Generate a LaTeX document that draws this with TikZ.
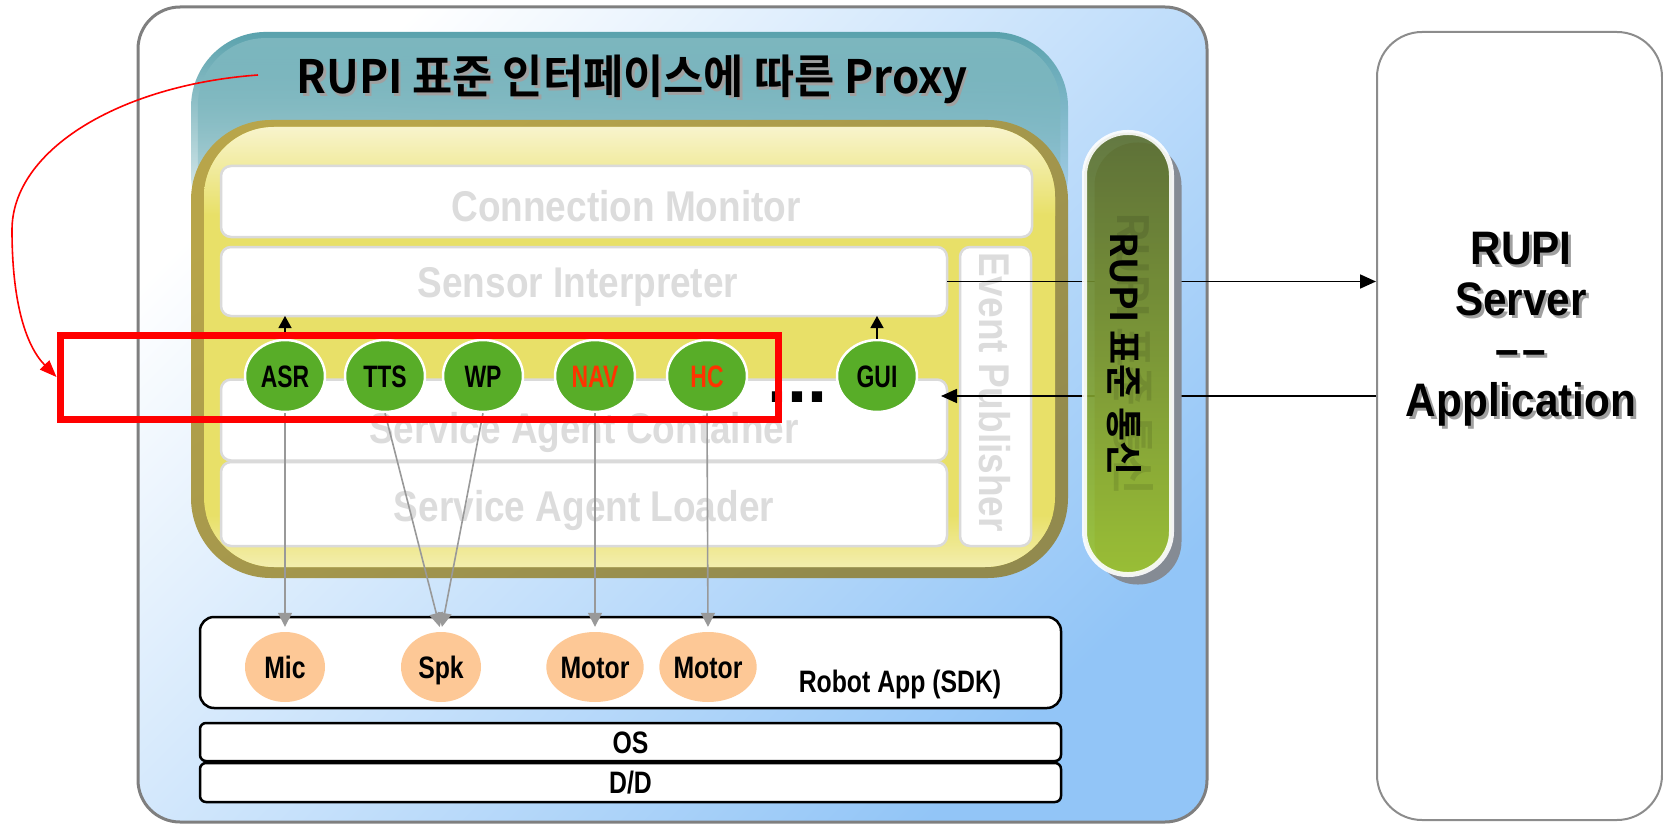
\documentclass[tikz,border=0pt]{standalone}
\usepackage{fontspec}
\usetikzlibrary{arrows.meta,shapes.geometric,fadings}

\newfontfamily\agentfont{Liberation Sans Bold}[FakeStretch=0.74]
\newfontfamily\devfont{Liberation Sans Bold}[FakeStretch=0.8]
\newfontfamily\layerfont{Liberation Sans Bold}[FakeStretch=0.86]
\newfontfamily\serverfont{Liberation Sans Bold}[FakeStretch=0.9]
\newfontfamily\plainbold{Liberation Sans Bold}
\newfontfamily\krtitle{Noto Sans CJK KR Bold}[FakeStretch=0.95]
\newfontfamily\krbar{Noto Sans CJK KR Bold}

\definecolor{bgblue}{HTML}{92C5F7}
\definecolor{frame}{HTML}{7F7F7F}
\definecolor{tealtop}{HTML}{5AA2AD}
\definecolor{tealin}{HTML}{7DB7BF}
\definecolor{olivelt}{HTML}{B8A54A}
\definecolor{olivedk}{HTML}{928A4E}
\definecolor{ymain}{HTML}{E8E068}
\definecolor{ylight}{HTML}{F8F4CC}
\definecolor{boxline}{HTML}{DADADA}
\definecolor{boxtext}{HTML}{DCDCDC}
\definecolor{agentgreen}{HTML}{58AD28}
\definecolor{navred}{HTML}{FF3300}
\definecolor{peach}{HTML}{FDC896}
\definecolor{pilltop}{HTML}{5A6E2E}
\definecolor{pillbot}{HTML}{9CC42C}
\definecolor{pillshadow}{HTML}{858B94}
\definecolor{wire}{HTML}{999999}
\definecolor{srvline}{HTML}{8C8C8C}
\definecolor{txtshadow}{HTML}{A0A0A0}

\begin{document}
\begin{tikzpicture}[x=1pt,y=-1pt,
  layer/.style={draw=boxline, line width=2.5pt, fill=white, rounded corners=10pt,
    inner sep=0pt, outer sep=0pt},
  layerlbl/.style={font=\layerfont\fontsize{43pt}{43pt}\selectfont, text=boxtext,
    inner sep=0pt, text height=31pt, text depth=0pt},
  agent/.style={ellipse, fill=agentgreen, draw=white, line width=2.5pt,
    minimum width=80pt, minimum height=72pt, inner sep=0pt,
    font=\agentfont\fontsize{31pt}{31pt}\selectfont, text height=22pt, text depth=0pt},
  device/.style={ellipse, fill=peach, minimum width=80pt, minimum height=70pt,
    inner sep=0pt, font=\devfont\fontsize{31pt}{31pt}\selectfont,
    text height=22pt, text depth=0pt},
  sdk/.style={draw=black, line width=2.5pt, fill=white, inner sep=0pt,
    font=\devfont\fontsize{31pt}{31pt}\selectfont, text height=22pt, text depth=0pt},
  uparrow/.style={line width=1.3pt, -{Triangle[length=12pt,width=13pt]}},
  wiredown/.style={draw=wire, line width=1.6pt, -{Triangle[length=14pt,width=14pt]},
    shorten >=5pt},
  link/.style={line width=1.8pt, -{Triangle[length=16pt,width=14pt]}},
  redlink/.style={draw=red, line width=1.6pt, -{Triangle[length=17pt,width=13pt]}},
]
\useasboundingbox (0,0) rectangle (1663,824);

% host frame of the robot side
\node[draw=frame, line width=3pt, rounded corners=42pt, top color=white,
  bottom color=bgblue, shading angle=45, minimum width=1069pt,
  minimum height=815pt, inner sep=0pt] (host) at (672.5,414.5) {};

% RUPI server / application
\node[draw=srvline, line width=2pt, fill=white, rounded corners=45pt,
  minimum width=285pt, minimum height=788pt, inner sep=0pt] (srv) at (1519.5,426) {};
\node[text=txtshadow, align=center, inner sep=0pt,
  font=\serverfont\fontsize{47pt}{50.5pt}\selectfont] at (1524,332)
  {RUPI\\Server\\\textendash\hspace{4pt}\textendash\\Application};
\node[align=center, inner sep=0pt,
  font=\serverfont\fontsize{47pt}{50.5pt}\selectfont] (srvtxt) at (1521,329)
  {RUPI\\Server\\\textendash\hspace{4pt}\textendash\\Application};

% proxy band
\fill[tealtop, path fading=south, rounded corners=75pt] (191,32) rectangle (1068,250);
\fill[tealin, path fading=south, rounded corners=68pt] (198,38) rectangle (1061,250);
\node[anchor=base, inner sep=0pt, text=txtshadow,
  font=\krtitle\fontsize{46pt}{46pt}\selectfont] at (634.5,96.5)
  {RUPI 표준 인터페이스에 따른 Proxy};
\node[anchor=base, inner sep=0pt,
  font=\krtitle\fontsize{46pt}{46pt}\selectfont] (title) at (632,94)
  {RUPI 표준 인터페이스에 따른 Proxy};
\coordinate (cstart) at (258,75);

% proxy body
\node[rounded corners=80pt, top color=olivelt, bottom color=olivedk,
  shading angle=30, minimum width=877pt, minimum height=458pt,
  inner sep=0pt] (body) at (629.5,349) {};
\fill[ymain, rounded corners=70pt] (204,127) rectangle (1055,567);
\begin{scope}
  \clip[rounded corners=70pt] (204,127) rectangle (1055,567);
  \shade[top color=ylight, bottom color=ymain] (204,127) rectangle (1055,215);
  \shade[top color=ymain, bottom color=ylight!70!ymain] (204,515) rectangle (1055,567);
\end{scope}

% internal layers
\node[layer, minimum width=811pt, minimum height=71pt] (cm) at (626.5,201.5) {};
\node[layer, minimum width=726pt, minimum height=69pt] (si) at (584,281.5) {};
\node[layer, minimum width=71pt, minimum height=299pt] (ep) at (995.5,396.5) {};
\node[layer, minimum width=726pt, minimum height=81pt] (sac) at (584,420) {};
\node[layer, minimum width=726pt, minimum height=84pt] (sal) at (584,504) {};
\node[layerlbl] at (626,205.5) {Connection Monitor};
\node[layerlbl] at (578,282) {Sensor Interpreter};
\node[layerlbl] at (584,428) {Service Agent Container};
\node[layerlbl] at (584,506) {Service Agent Loader};
\node[layerlbl, rotate=-90] at (995,392) {Event Publisher};

% links to the server
\coordinate (inport) at (941,396);
\draw[link] (si.east) -- (si.east -| srv.west);
\draw[link] (srv.west |- inport) -- (inport);

% RUPI standard communication bar
\node[fill=pillshadow, rounded corners=43pt, minimum width=87pt,
  minimum height=442pt, inner sep=0pt] (pillsh) at (1138,363.5) {};
\node[draw=white, line width=5pt, top color=pilltop, bottom color=pillbot,
  opacity=0.9, rounded corners=43pt, minimum width=87pt, minimum height=442pt,
  inner sep=0pt] (pill) at (1128,353.5) {};
\node[rotate=-90, opacity=0.1, inner sep=0pt,
  font=\krbar\fontsize{43pt}{43pt}\selectfont] at (1134,354) {RUPI 표준 통신};
\node[rotate=-90, inner sep=0pt,
  font=\krbar\fontsize{37pt}{37pt}\selectfont] (pilltxt) at (1124,354) {RUPI 표준 통신};

% robot SDK layers
\node[sdk, rounded corners=14pt, minimum width=861pt, minimum height=91pt] (robot) at (630.5,662.5) {};
\node[anchor=base, inner sep=0pt, font=\devfont\fontsize{31pt}{31pt}\selectfont]
  (robotlbl) at (900,692) {Robot App (SDK)};
\node[sdk, rounded corners=6pt, minimum width=861pt, minimum height=38pt] (os) at (630.5,742) {OS};
\node[sdk, rounded corners=6pt, minimum width=861pt, minimum height=39pt] (dd) at (630.5,782.5) {D/D};

\node[device] (mic) at (285,667) {Mic};
\node[device] (spk) at (441,667) {Spk};
\node[device] (mot1) at (595,667) {Motor};
\node[device] (mot2) at (708,667) {Motor};

% service agents
\node[agent] (asr) at (285,376) {ASR};
\node[agent] (tts) at (385,376) {TTS};
\node[agent] (wp) at (483,376) {WP};
\node[agent, text=navred] (nav) at (595,376) {NAV};
\node[agent, text=navred] (hc) at (707,376) {HC};
\node[agent] (gui) at (877,376) {GUI};
\node[anchor=base, inner sep=0pt, font=\plainbold\fontsize{72pt}{72pt}\selectfont]
  (more) at (797,402) {...};

\draw[uparrow] (asr.north) -- (asr.north |- si.south);
\draw[uparrow] (gui.north) -- (gui.north |- si.south);

\draw[wiredown] (asr.south) -- (mic.north);
\draw[wiredown] (tts.south) -- (spk.north);
\draw[wiredown] (wp.south) -- (spk.north);
\draw[wiredown] (nav.south) -- (mot1.north);
\draw[wiredown] (hc.south) -- (mot2.north);

% highlight of the focused agents
\node[draw=red, line width=7pt, minimum width=718pt, minimum height=84pt,
  inner sep=0pt] (focus) at (419,377) {};
\draw[redlink] (cstart) .. controls (120,85) and (12,150) .. (12,230)
  .. controls (12,300) and (25,345) .. (focus.west);
\end{tikzpicture}
\end{document}
